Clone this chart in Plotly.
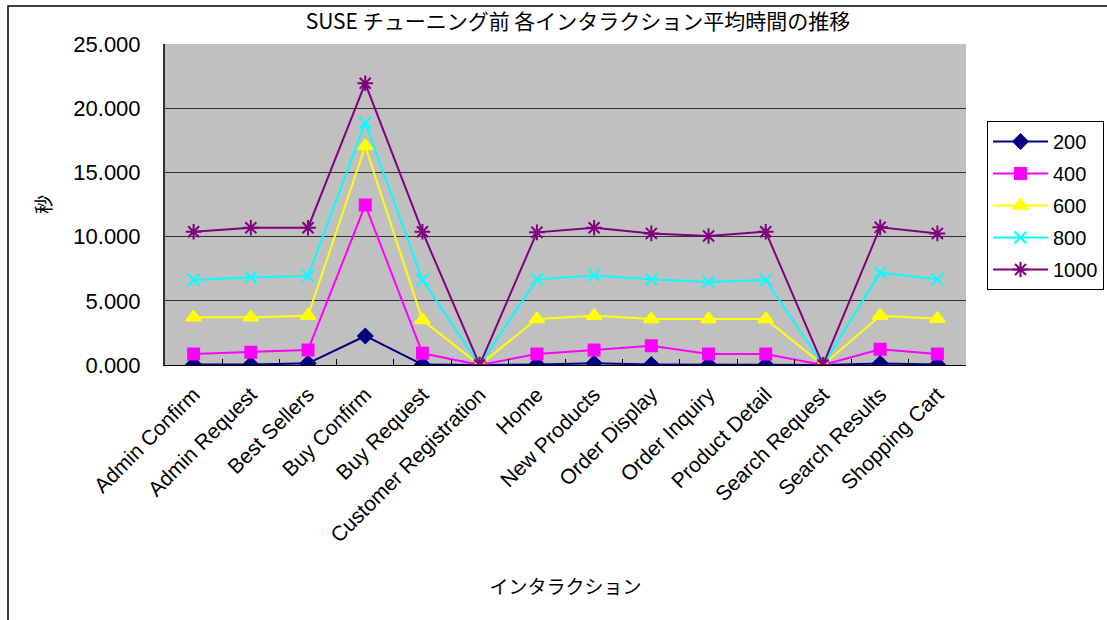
import plotly.graph_objects as go

# Interaction names (x categories)
interactions = [
    "Admin Confirm", "Admin Request", "Best Sellers", "Buy Confirm", "Buy Request",
    "Customer Registration", "Home", "New Products", "Order Display", "Order Inquiry",
    "Product Detail", "Search Request", "Search Results", "Shopping Cart",
]

# Average response time (seconds) per client count
users_200 = [0.03, 0.03, 0.13, 2.26, 0.03, 0.0, 0.03, 0.13, 0.03, 0.02, 0.02, 0.0, 0.12, 0.03]
users_400 = [0.86, 0.99, 1.17, 12.46, 0.91, 0.0, 0.86, 1.17, 1.50, 0.86, 0.86, 0.0, 1.22, 0.86]
users_600 = [3.71, 3.71, 3.84, 17.05, 3.50, 0.0, 3.58, 3.84, 3.58, 3.58, 3.58, 0.0, 3.84, 3.60]
users_800 = [6.62, 6.83, 6.93, 18.87, 6.62, 0.0, 6.67, 6.98, 6.67, 6.46, 6.62, 0.0, 7.19, 6.67]
users_1000 = [10.38, 10.69, 10.69, 21.94, 10.38, 0.0, 10.33, 10.69, 10.25, 10.05, 10.38, 0.0, 10.72, 10.25]

y_ticks = [0, 5, 10, 15, 20, 25]

series = [
    ("200", users_200, "#000080", "diamond", 11),
    ("400", users_400, "#FF00FF", "square", 11),
    ("600", users_600, "#FFFF00", "triangle-up", 13),
    ("800", users_800, "#00FFFF", "x-thin-open", 12),
    ("1000", users_1000, "#800080", "asterisk-open", 13),
]

LATIN = "Liberation Sans, Arial, sans-serif"
CJK = "Noto Sans CJK JP, sans-serif"

fig = go.Figure()
for name, vals, color, symbol, size in series:
    fig.add_trace(go.Scatter(
        x=interactions, y=vals, name=name, mode="lines+markers",
        legendgroup=name,
        line=dict(color=color, width=2),
        marker=dict(symbol=symbol, size=size, color=color,
                    line=dict(color=color, width=2)),
    ))

W, H = 1107, 620
L, R, T, B = 165, 141, 44, 255
pw, ph = W - L - R, H - T - B

def px_x(x):
    return (x - L) / pw

def px_y(y):
    return (H - B - y) / ph

fig.update_layout(
    width=W, height=H,
    margin=dict(l=L, r=R, t=T, b=B, autoexpand=False),
    paper_bgcolor="white",
    plot_bgcolor="#C0C0C0",
    title=dict(
        text="SUSE チューニング前 各インタラクション平均時間の推移",
        x=578 / W, xanchor="center", y=1 - 22 / H, yanchor="middle",
        font=dict(family=CJK, size=21, color="black"),
    ),
    font=dict(family=LATIN, size=20, color="black"),
    showlegend=True,
    legend=dict(
        x=px_x(987), xanchor="left", y=px_y(121), yanchor="top",
        bgcolor="white", bordercolor="black", borderwidth=1,
        font=dict(family=LATIN, size=20, color="black"),
        itemwidth=55, tracegroupgap=3,
    ),
    xaxis=dict(
        type="category",
        tickangle=-45,
        tickfont=dict(family=LATIN, size=21, color="black"),
        showline=True, linecolor="black", linewidth=1,
        ticks="inside", ticklen=6, tickcolor="black",
        tickson="boundaries",
        showgrid=False,
        ticklabelstandoff=8,
        range=[-0.5, len(interactions) - 0.5],
        title=dict(text="インタラクション", font=dict(family=CJK, size=19, color="black"),
                   standoff=35),
        automargin=False,
    ),
    yaxis=dict(
        range=[0, 25],
        tickvals=y_ticks,
        tickformat=".3f",
        tickfont=dict(family=LATIN, size=22, color="black"),
        showline=True, linecolor="#333333", linewidth=2,
        ticks="inside", ticklen=6, tickcolor="#333333",
        showgrid=True, gridcolor="#333333", gridwidth=1,
        zeroline=False,
        ticklabelstandoff=18,
        title=dict(text="秒", font=dict(family=CJK, size=19, color="black"), standoff=17),
        automargin=False,
    ),
)

# Outer chart-area frame
fig.add_shape(
    type="rect", xref="paper", yref="paper",
    x0=px_x(8), x1=px_x(1130), y0=px_y(640), y1=px_y(6),
    line=dict(color="black", width=1.5), fillcolor="rgba(0,0,0,0)", layer="below",
)

fig.write_html("out.html")
